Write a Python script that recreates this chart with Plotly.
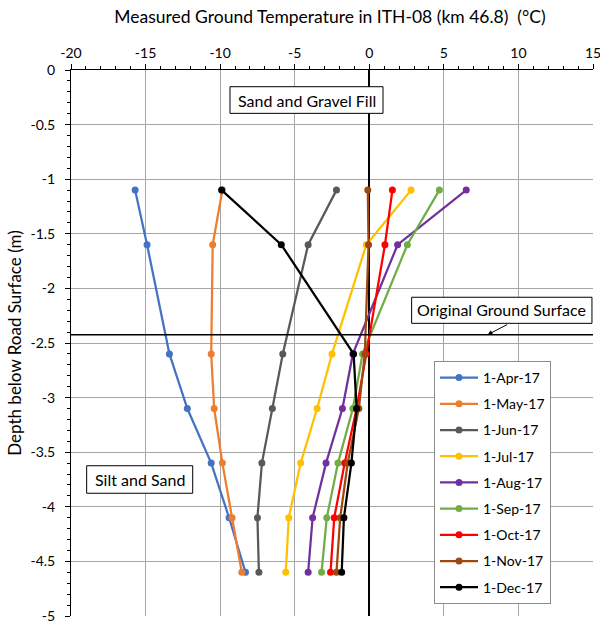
import plotly.graph_objects as go

depths = [-1.1, -1.6, -2.6, -3.1, -3.6, -4.1, -4.6]

series_names = ["1-Apr-17", "1-May-17", "1-Jun-17", "1-Jul-17", "1-Aug-17",
                "1-Sep-17", "1-Oct-17", "1-Nov-17", "1-Dec-17"]
apr17 = [-15.7, -14.9, -13.4, -12.2, -10.6, -9.4, -8.3]
may17 = [-9.85, -10.5, -10.6, -10.4, -9.85, -9.2, -8.55]
jun17 = [-2.2, -4.1, -5.8, -6.5, -7.2, -7.5, -7.4]
jul17 = [2.8, -0.2, -2.5, -3.5, -4.6, -5.4, -5.6]
aug17 = [6.5, 1.9, -1.1, -1.8, -2.9, -3.8, -4.1]
sep17 = [4.7, 2.55, -0.45, -1.1, -2.1, -2.85, -3.2]
oct17 = [1.55, 1.05, -0.2, -0.85, -1.65, -2.35, -2.6]
nov17 = [-0.1, -0.05, -0.3, -0.7, -1.45, -1.95, -2.2]
dec17 = [-9.9, -5.9, -1.05, -0.85, -1.2, -1.7, -1.85]
series_values = [apr17, may17, jun17, jul17, aug17, sep17, oct17, nov17, dec17]
series_colors = ["#4472C4", "#ED7D31", "#595959", "#FFC000", "#7030A0",
                 "#70AD47", "#FF0000", "#9E480E", "#000000"]

x_tickvals = [-20, -15, -10, -5, 0, 5, 10, 15]
x_ticktext = ["-20", "-15", "-10", "-5", "0", "5", "10", "15"]
y_tickvals = [0, -0.5, -1, -1.5, -2, -2.5, -3, -3.5, -4, -4.5, -5]
y_ticktext = ["0", "-0.5", "-1", "-1.5", "-2", "-2.5", "-3", "-3.5", "-4", "-4.5", "-5"]

original_ground_depth = -2.425

# text labels: (text, centre x, centre y, box x0, x1, y0, y1)
labels = [
    ("Sand and Gravel Fill", -4.21, -0.275, -9.34, 0.92, -0.153, -0.397),
    ("Silt and Sand", -15.39, -3.75, -18.95, -11.84, -3.624, -3.876),
    ("Original Ground Surface", 8.89, -2.19, 2.84, 14.93, -2.081, -2.320),
]

FONT = "Lato, Carlito, Calibri, sans-serif"

fig = go.Figure()
for name, vals, col in zip(series_names, series_values, series_colors):
    fig.add_trace(go.Scatter(
        x=vals, y=depths, name=name, mode="lines+markers",
        line=dict(color=col, width=2.25),
        marker=dict(color=col, size=7),
        legendgroup=name,
    ))

fig.add_shape(type="line", xref="x", yref="y", x0=-20, x1=15,
              y0=original_ground_depth, y1=original_ground_depth,
              line=dict(color="black", width=1.5))

for text, cx, cy, bx0, bx1, by0, by1 in labels:
    fig.add_shape(type="rect", xref="x", yref="y", x0=bx0, x1=bx1, y0=by0, y1=by1,
                  fillcolor="white", line=dict(color="black", width=1), layer="above")
    fig.add_annotation(x=cx, y=cy, text=text, showarrow=False,
                       font=dict(family=FONT, size=16, color="black"))

fig.add_annotation(x=7.93, y=original_ground_depth, text="", showarrow=True,
                   ax=21, ay=-11, arrowhead=2, arrowsize=1, arrowwidth=1,
                   arrowcolor="black")

fig.update_layout(
    width=600, height=624,
    margin=dict(l=71, r=7, t=70, b=8, autoexpand=False),
    paper_bgcolor="white", plot_bgcolor="white",
    font=dict(family=FONT, size=14, color="black"),
    title=dict(text="Measured Ground Temperature in ITH-08 (km 46.8)  (°C)",
               x=0.55, xanchor="center", y=1 - 17 / 624, yanchor="middle",
               yref="container", automargin=False,
               font=dict(family=FONT, size=17.5, color="black")),
    legend=dict(x=(434 - 71) / 522, y=1 - (361 - 70) / 546, xanchor="left", yanchor="top",
                bordercolor="#8C8C8C", borderwidth=1, bgcolor="white",
                font=dict(family=FONT, size=14, color="black"),
                traceorder="grouped", tracegroupgap=5, itemwidth=38),
    showlegend=True,
)

fig.update_xaxes(
    side="top", range=[-20, 15], tickvals=x_tickvals, ticktext=x_ticktext,
    automargin=False, ticklabeloverflow="allow",
    showgrid=True, gridcolor="#A6A6A6", gridwidth=1,
    zeroline=True, zerolinecolor="black", zerolinewidth=2,
    showline=True, linecolor="black", linewidth=1,
    ticks="outside", ticklen=5, tickcolor="black",
    minor=dict(dtick=1, ticks="outside", ticklen=3, tickcolor="black", showgrid=False),
    tickfont=dict(family=FONT, size=14),
)
fig.update_yaxes(
    range=[-5, 0], tickvals=y_tickvals, ticktext=y_ticktext,
    automargin=False, ticklabeloverflow="allow", ticklabelstandoff=7,
    showgrid=True, gridcolor="#A6A6A6", gridwidth=1,
    zeroline=False,
    showline=True, linecolor="black", linewidth=1,
    ticks="outside", ticklen=5, tickcolor="black",
    minor=dict(dtick=0.1, ticks="outside", ticklen=3, tickcolor="black", showgrid=False),
    tickfont=dict(family=FONT, size=14),
    title=dict(text="Depth below Road Surface (m)", font=dict(family=FONT, size=17),
               standoff=4),
)

fig.write_html("out.html", config={"displayModeBar": False},
               post_script="document.body.style.margin='0';document.body.style.padding='0';")
